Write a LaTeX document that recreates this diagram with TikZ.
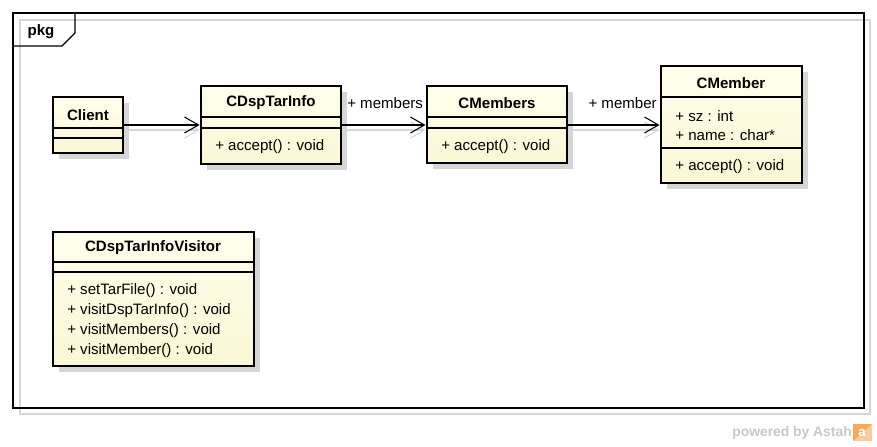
\documentclass[tikz,border=0pt]{standalone}
\usepackage{fontspec}
\setmainfont{Liberation Sans}
\usetikzlibrary{arrows.meta,fit,shadows}

\definecolor{clstop}{RGB}{255,255,236}
\definecolor{clsbot}{RGB}{250,247,212}
\definecolor{shadowgray}{RGB}{214,214,214}
\definecolor{astah}{RGB}{200,200,200}
\definecolor{astahorange}{RGB}{245,170,90}

\begin{document}
\begin{tikzpicture}[x=0.75pt,y=-0.75pt,
    every node/.style={font=\fontsize{11.3}{13}\selectfont, inner sep=0pt},
    cls/.style={draw, line width=2.2pt, top color=clstop, bottom color=clsbot,
        drop shadow={shadow xshift=4.5pt, shadow yshift=-4.5pt, fill=shadowgray, opacity=1}},
    cname/.style={font=\fontsize{11.3}{13}\selectfont\bfseries},
    sep/.style={line width=0.8pt},
    assoc/.style={line width=0.8pt, -{Straight Barb[length=10.5pt,width=12pt]}},
    assocshadow/.style={assoc, draw=shadowgray, transform canvas={yshift=-3.75pt}}]
    \useasboundingbox (0,0) rectangle (877,446);

    % package frame
    \draw[shadowgray, line width=0.8pt] (20,20) rectangle (870,414);
    \draw[line width=0.8pt] (13,13) rectangle (864,408);
    \draw[line width=0.8pt] (13,46) -- (62,46) -- (75,33) -- (75,13);
    \node[cname] (pkg) at (41,32) {pkg};

    % classes
    \node[cls, fit={(53,97) (123,153)}] (client) {};
    \node[cname] at (88,115) {Client};
    \draw[sep] (53,128) -- (123,128);
    \draw[sep] (53,138) -- (123,138);

    \node[cls, fit={(201,86) (341,164)}] (info) {};
    \node[cname] at (271,103) {CDspTarInfo};
    \draw[sep] (201,117) -- (341,117);
    \draw[sep] (201,128) -- (341,128);
    \node[anchor=west] at (215,147) {+ accept() : void};

    \node[cls, fit={(427,86) (567,163)}] (members) {};
    \node[cname] at (497,103) {CMembers};
    \draw[sep] (427,117) -- (567,117);
    \draw[sep] (427,128) -- (567,128);
    \node[anchor=west] at (441,147) {+ accept() : void};

    \node[cls, fit={(661,66) (802,183)}] (member) {};
    \node[cname] at (731,83) {CMember};
    \draw[sep] (661,97) -- (802,97);
    \node[anchor=west] at (675,116) {+ sz : int};
    \node[anchor=west] at (675,135) {+ name : char*};
    \draw[sep] (661,148) -- (802,148);
    \node[anchor=west] at (675,167) {+ accept() : void};

    \node[cls, fit={(53,232) (254,366)}] (visitor) {};
    \node[cname] at (153,248) {CDspTarInfoVisitor};
    \draw[sep] (53,262) -- (254,262);
    \draw[sep] (53,272) -- (254,272);
    \node[anchor=west] at (67,291) {+ setTarFile() : void};
    \node[anchor=west] at (67,311) {+ visitDspTarInfo() : void};
    \node[anchor=west] at (67,331) {+ visitMembers() : void};
    \node[anchor=west] at (67,351) {+ visitMember() : void};

    % associations
    \draw[assocshadow] (client.east |- 0,125) -- (info.west |- 0,125);
    \draw[assocshadow] (info.east |- 0,125) -- (members.west |- 0,125);
    \draw[assocshadow] (members.east |- 0,125) -- (member.west |- 0,125);
    \draw[assoc] (client.east |- 0,125) -- (info.west |- 0,125);
    \draw[assoc] (info.east |- 0,125) -- (members.west |- 0,125);
    \draw[assoc] (members.east |- 0,125) -- (member.west |- 0,125);
    \node[anchor=west] (rmembers) at (347,103) {+ members};
    \node[anchor=east] (rmember) at (657,103) {+ member};

    % watermark
    \node[anchor=east, text=astah, font=\fontsize{10.4}{12}\selectfont\bfseries] (powered) at (852,433) {powered by Astah};
    \fill[astahorange!60] (853,424) rectangle (872,441);
    \fill[astahorange] (853,424) -- (872,424) -- (853,441) -- cycle;
    \node[text=white, font=\fontsize{10}{12}\selectfont\bfseries] (logo) at (862,433) {a};
\end{tikzpicture}
\end{document}
